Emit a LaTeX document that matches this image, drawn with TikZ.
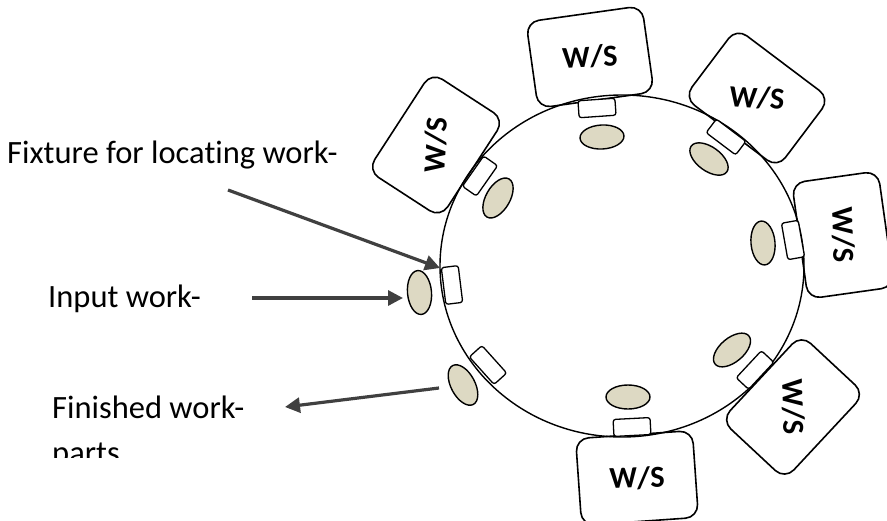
\documentclass[tikz,border=0pt]{standalone}
\usepackage{fontspec}
\setmainfont{Carlito}[Ligatures=NoCommon]
\usetikzlibrary{arrows.meta,shapes.geometric}
\definecolor{partfill}{HTML}{DDD9C3}
\definecolor{arrowgray}{HTML}{404040}
\begin{document}
\begin{tikzpicture}[x=1pt,y=-1pt,
  ring/.style={draw, line width=1.4pt, ellipse, inner sep=0pt,
    minimum width=364pt, minimum height=342pt},
  station/.style={draw, line width=1.6pt, rounded corners=13pt, inner sep=0pt,
    minimum width=117pt, minimum height=87pt},
  fixture/.style={draw, line width=1.3pt, rounded corners=2.5pt, inner sep=0pt,
    fill=white, minimum width=37pt, minimum height=17pt},
  part/.style={draw, line width=1.4pt, fill=partfill, ellipse, inner sep=0pt,
    minimum width=44pt, minimum height=24pt},
  wslabel/.style={font=\fontsize{30.5}{36}\selectfont\bfseries, inner sep=0pt},
  lbl/.style={font=\fontsize{32.5}{39}\selectfont, inner sep=0pt, anchor=base west},
  feed/.style={draw=arrowgray, line width=3.2pt, -{Triangle[length=15pt,width=15pt]}}
]
\useasboundingbox (0,0) rectangle (887,520);

% indexing table
\node[ring] (table) at (622,266) {};

% workstations around the table
\node[station, rotate=8]   (wsT)  at (590,57)  {};
\node[station, rotate=-37] (wsUR) at (757,98)  {};
\node[station, rotate=-82] (wsR)  at (843,235) {};
\node[station, rotate=47]  (wsLR) at (793,407) {};
\node[station, rotate=4]   (wsB)  at (637,478) {};
\node[station, rotate=57]  (wsUL) at (436,145) {};

\node[wslabel, rotate=3]   (lT)  at (wsT)  {W/S};
\node[wslabel, rotate=-4]  (lUR) at (wsUR) {W/S};
\node[wslabel, rotate=-88] (lR)  at (wsR)  {W/S};
\node[wslabel, rotate=-88] (lLR) at (wsLR) {W/S};
\node[wslabel, rotate=2]   (lB)  at (wsB)  {W/S};
\node[wslabel, rotate=86]  (lUL) at (wsUL) {W/S};

% fixtures on the table rim
\node[fixture, rotate=4]   (fxT)  at (597,108) {};
\node[fixture, rotate=-37] (fxUR) at (726,137) {};
\node[fixture, rotate=-80] (fxR)  at (793,240) {};
\node[fixture, rotate=47]  (fxLR) at (755,370) {};
\node[fixture, rotate=3]   (fxB)  at (632,427) {};
\node[fixture, rotate=-48] (fxLL) at (488,365) {};
\node[fixture, rotate=-83] (fxL)  at (452,285) {};
\node[fixture, rotate=55]  (fxUL) at (480,176) {};

% work parts
\node[part, rotate=3]   (pT)  at (602,137) {};
\node[part, rotate=-36] (pUR) at (709,159) {};
\node[part, rotate=95]  (pR)  at (763,243) {};
\node[part, rotate=40]  (pLR) at (732,350) {};
\node[part, rotate=0]   (pB)  at (628,397) {};
\node[part, rotate=95]  (pL)  at (419.5,292.5) {};
\node[part, rotate=-62] (pLL) at (463,385) {};
\node[part, rotate=60]  (pUL) at (498,198) {};

% labels
\node[lbl] (tFix) at (7,163) {Fixture for locating work-};
\node[lbl] (tIn)  at (48,307) {Input work-};
\node[lbl] (tOut) at (52,418) {Finished work-};
\begin{scope}
  \clip (0,430) rectangle (300,457);
  \node[lbl] (tOut2) at (52,463) {parts};
\end{scope}

% arrows
\coordinate (fixTail) at (228,190);
\coordinate (fixTip)  at (440,268);
\coordinate (inTail)  at (252,298);
\coordinate (inTip)   at (403,298);
\coordinate (outTail) at (439,388);
\coordinate (outTip)  at (285,407);
\draw[feed] (fixTail) -- (fixTip);
\draw[feed] (inTail) -- (inTip);
\draw[feed] (outTail) -- (outTip);
\end{tikzpicture}
\end{document}
